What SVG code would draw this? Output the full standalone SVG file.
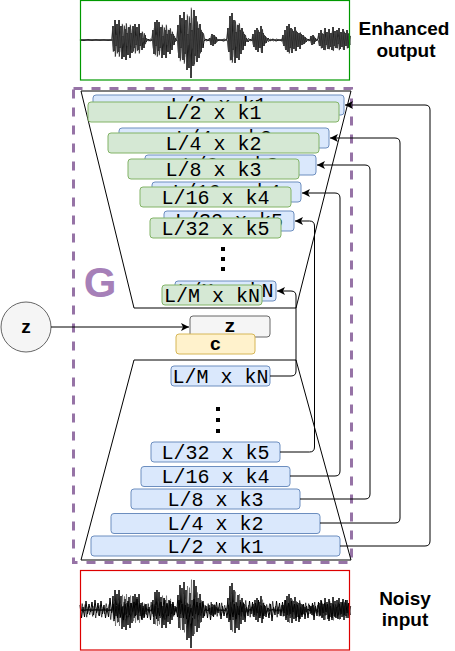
<svg xmlns="http://www.w3.org/2000/svg" xmlns:xlink="http://www.w3.org/1999/xlink" width="455" height="651" viewBox="0 0 455 651">
<style>
.b{fill:#dae8fc;stroke:#6c8ebf;stroke-width:1}
.g{fill:#d5e8d4;stroke:#82b366;stroke-width:1}
.t{font-family:"Liberation Mono",monospace;font-size:20px;fill:#000;text-anchor:middle}
.tb{font-family:"Liberation Mono",monospace;font-size:19px;font-weight:bold;fill:#000;text-anchor:middle}
.lab{font-family:"Liberation Sans",Arial,sans-serif;font-size:19px;font-weight:bold;fill:#000;text-anchor:middle}
.ln{fill:none;stroke:#000;stroke-width:1}
.cn{fill:none;stroke:#000;stroke-width:1;marker-end:url(#ah)}
.w{fill:none;stroke:#000;stroke-width:1;stroke-linejoin:round}
.w2{fill:none;stroke:#111;stroke-width:0.8;stroke-linejoin:round}
.w3{fill:none;stroke:#444;stroke-width:0.6;stroke-linejoin:round}
</style>
<defs>
<marker id="ah" markerUnits="userSpaceOnUse" markerWidth="10" markerHeight="10" refX="8" refY="4" orient="auto"><path d="M0,0 L8,4 L0,8 L2,4 z" fill="#000"/></marker>
<polyline id="wave" points="80,40 84,40.5 88,39.6 92,40.4 96,39.7 100,40.3 104,39.8 108,40.4 112,40 113,26 114,51 115,20 116,46 117,24 118,52 119,20 120,48 121,26 122,59 123,36 124,57 125,29 126,60 127,33 128,55 129,27 130,58 131,33 132,53 133,26 134,48 135,24 136,45 137,27 138,50 139,24 140,46 141,33 142,50 143,38 144,48 145,35 146,42 148,39 150,41 152,40 153,30 154,54 155,22 156,46 157,20 158,51 159,22 160,48 161,27 162,58 163,36 164,55 165,30 166,58 167,34 168,52 169,30 170,54 171,34 172,50 173,34 174,45 175,38 176,41 177,39 178,25 179,58 180,15 181,48 182,18 183,60 184,12 185,54 186,20 187,70 188,34 189,68 190,23 191,78 192,30 193,66 194,10 195,56 196,16 197,62 198,28 199,58 200,24 201,52 202,32 203,48 204,41 206,39 208,41 210,38 211,45 212,34 213,46 214,35 215,44 216,37 217,41 220,40 224,41 227,39 228,28 229,52 230,16 231,60 232,13 233,50 234,20 235,63 236,32 237,58 238,25 239,60 240,30 241,54 242,28 243,50 244,34 245,46 246,38 248,42 250,39 252,41 253,34 254,47 255,30 256,50 257,28 258,52 259,32 260,48 261,26 262,53 263,33 264,46 265,36 266,43 268,38 270,41 273,39 276,41 279,40 282,41 283,35 284,46 285,30 286,50 287,26 288,52 289,24 290,48 291,28 292,53 293,31 294,49 295,27 296,51 297,32 298,47 299,33 300,49 301,34 302,45 303,35 304,44 305,37 306,42 308,39 310,41 311,36 312,45 313,35 314,44 315,38 316,41 318,39 319,33 320,46 321,30 322,48 323,34 324,50 325,28 326,45 327,32 328,49 329,29 330,47 331,33 332,50 333,27 334,46 335,31 336,48 337,30 338,44 339,28 340,49 341,32 342,47 343,29 344,50 345,33 346,46 347,30 348,48 349,34 350,45"/>
<polyline id="noise" points="0,-5 1.5,8 3,-3 4.5,7 6,-9 7.5,4 9,-6 10.5,2 12,-8 13.5,5 15,-10 16.5,3 18,-7 19.5,6 21,-9 22.5,4 24,-5 25.5,8 27,-2 28.5,7 30,-12 31.5,3 33,-6 34.5,9 36,-4 37.5,8 39,-5 40.5,7 42,-3 43.5,10 45,-6 46.5,4 48,-9 49.5,5 51,-7 52.5,2 54,-8 55.5,6 57,-11 58.5,3 60,-5 61.5,9 63,-4 64.5,7 66,-6 67.5,8 69,-3 70.5,10 72,-5 73.5,7 75,-4 76.5,9 78,-2 79.5,6 81,-8 82.5,5 84,-12 85.5,3 87,-7 88.5,6 90,-9 91.5,4 93,-8 94.5,5 96,-3 97.5,7 99,-10 100.5,4 102,-6 103.5,8 105,-5 106.5,9 108,-3 109.5,7 111,-2 112.5,6 114,-11 115.5,4 117,-8 118.5,5 120,-7 121.5,3 123,-9 124.5,6 126,-4 127.5,8 129,-5 130.5,10 132,-3 133.5,7 135,-5"/>
</defs>
<rect width="455" height="651" fill="#fff"/>

<g id="enhanced-output">
<line x1="80" y1="40" x2="350" y2="40" stroke="#555" stroke-width="0.8"/>
<use xlink:href="#wave" class="w"/>
<use xlink:href="#wave" class="w2" transform="translate(0.5,72) scale(1,-0.8)"/>
<use xlink:href="#wave" class="w3" transform="translate(-0.4,6) scale(1,0.85)"/>
<use xlink:href="#wave" class="w3" transform="translate(0.3,74) scale(1,-0.85)"/>
<rect x="80.5" y="0.5" width="269" height="79.5" fill="none" stroke="#009900" stroke-width="1.2"/>
<text class="lab" x="404" y="35">Enhanced</text>
<text class="lab" x="406" y="57">output</text>
</g>

<g id="noisy-input">
<line x1="80" y1="610" x2="350" y2="610" stroke="#555" stroke-width="0.8"/>
<use xlink:href="#wave" class="w" transform="translate(0,570)"/>
<use xlink:href="#wave" class="w3" transform="translate(0.5,642) scale(1,-0.8)"/>
<use xlink:href="#noise" class="w" transform="translate(80,610)"/>
<use xlink:href="#noise" class="w" transform="translate(215,610) scale(1,-1)"/>
<use xlink:href="#noise" class="w2" transform="translate(80.7,610) scale(1,-0.8)"/>
<use xlink:href="#noise" class="w2" transform="translate(215.7,610) scale(1,0.8)"/>
<rect x="80.5" y="570.5" width="269" height="79.5" fill="none" stroke="#dd0000" stroke-width="1.2"/>
<text class="lab" x="405" y="605">Noisy</text>
<text class="lab" x="405" y="626">input</text>
</g>

<g id="G">
<rect x="73.5" y="88.5" width="278" height="474" fill="none" stroke="#9673a6" stroke-width="3" stroke-dasharray="9 9"/>
<text x="100" y="297" font-family="Liberation Sans,Arial,sans-serif" font-size="42" font-weight="bold" fill="#A680B8" text-anchor="middle">G</text>
</g>

<g id="encoder-shape"><polygon class="ln" points="81,91 351,91 296,308 134,308"/></g>
<g id="decoder-shape"><polygon class="ln" points="134,360 296,360 351,560 81,560"/></g>

<g id="dec1"><rect class="b" x="93" y="95" width="251" height="20" rx="3"/><text class="t" x="218.5" y="111">L/2 x k1</text></g>
<g id="enc1"><rect class="g" x="88" y="102" width="251" height="20" rx="3"/><text class="t" x="213.5" y="118.5">L/2 x k1</text></g>
<g id="dec2"><rect class="b" x="119" y="128" width="210" height="20" rx="3"/><text class="t" x="224" y="144">L/4 x k2</text></g>
<g id="enc2"><rect class="g" x="108" y="133" width="211" height="20" rx="3"/><text class="t" x="213.5" y="149.5">L/4 x k2</text></g>
<g id="dec3"><rect class="b" x="145" y="155" width="171" height="20" rx="3"/><text class="t" x="230.5" y="171">L/8 x k3</text></g>
<g id="enc3"><rect class="g" x="128" y="159" width="171" height="20" rx="3"/><text class="t" x="213.5" y="175.5">L/8 x k3</text></g>
<g id="dec4"><rect class="b" x="152" y="182" width="149" height="20" rx="3"/><text class="t" x="226.5" y="198">L/16 x k4</text></g>
<g id="enc4"><rect class="g" x="140" y="187" width="151" height="20" rx="3"/><text class="t" x="215.5" y="203.5">L/16 x k4</text></g>
<g id="dec5"><rect class="b" x="164" y="211" width="130" height="20" rx="3"/><text class="t" x="229" y="227">L/32 x k5</text></g>
<g id="enc5"><rect class="g" x="150" y="218" width="131" height="20" rx="3"/><text class="t" x="215.5" y="234.5">L/32 x k5</text></g>
<g id="dots-top"><rect x="221" y="247" width="4" height="4"/><rect x="221" y="257" width="4" height="4"/><rect x="221" y="267" width="4" height="4"/></g>
<g id="decN"><rect class="b" x="175" y="281" width="101" height="20" rx="3"/><text class="t" x="225.5" y="297">L/M x kN</text></g>
<g id="encN"><rect class="g" x="162" y="285" width="100" height="20" rx="3"/><text class="t" x="212" y="301.5">L/M x kN</text></g>

<g id="z-latent"><rect x="190" y="316" width="80" height="21" rx="3" fill="#f5f5f5" stroke="#666"/><text class="tb" x="230" y="332">z</text></g>
<g id="c-code"><rect x="176" y="334" width="79" height="20" rx="3" fill="#fff2cc" stroke="#d6b656"/><text class="tb" x="215.5" y="350">c</text></g>

<g id="z-input"><circle cx="26" cy="327" r="25" fill="#f5f5f5" stroke="#666"/><text class="lab" x="26" y="333">z</text></g>

<g id="lowN"><rect class="b" x="171" y="366" width="99" height="20" rx="3"/><text class="t" x="220.5" y="382.5">L/M x kN</text></g>
<g id="dots-bottom"><rect x="216" y="407" width="4" height="4"/><rect x="216" y="418" width="4" height="4"/><rect x="216" y="429" width="4" height="4"/></g>
<g id="low5"><rect class="b" x="151" y="442" width="129" height="20" rx="3"/><text class="t" x="215.5" y="458.5">L/32 x k5</text></g>
<g id="low4"><rect class="b" x="141" y="466.5" width="149" height="20" rx="3"/><text class="t" x="215.5" y="483">L/16 x k4</text></g>
<g id="low3"><rect class="b" x="131" y="489" width="169" height="20" rx="3"/><text class="t" x="215.5" y="505.5">L/8 x k3</text></g>
<g id="low2"><rect class="b" x="111" y="513.5" width="209" height="20" rx="3"/><text class="t" x="215.5" y="530">L/4 x k2</text></g>
<g id="low1"><rect class="b" x="91" y="536" width="249" height="20" rx="3"/><text class="t" x="215.5" y="552.5">L/2 x k1</text></g>

<g id="connectors">
<path class="cn" d="M51,327 H189"/>
<path class="cn" d="M340,546 H425 Q430,546 430,541 V110 Q430,105 425,105 H345"/>
<path class="cn" d="M320,523 H395 Q400,523 400,518 V143 Q400,138 395,138 H330"/>
<path class="cn" d="M300,499 H365 Q370,499 370,494 V170 Q370,165 365,165 H317"/>
<path class="cn" d="M290,476 H335 Q340,476 340,471 V198 Q340,193 335,193 H302"/>
<path class="cn" d="M280,452 H309.5 Q314.5,452 314.5,447 V226 Q314.5,221 309.5,221 H295"/>
<path class="cn" d="M270,376 H291 Q296,376 296,371 V296 Q296,291 291,291 H277"/>
</g>
</svg>
